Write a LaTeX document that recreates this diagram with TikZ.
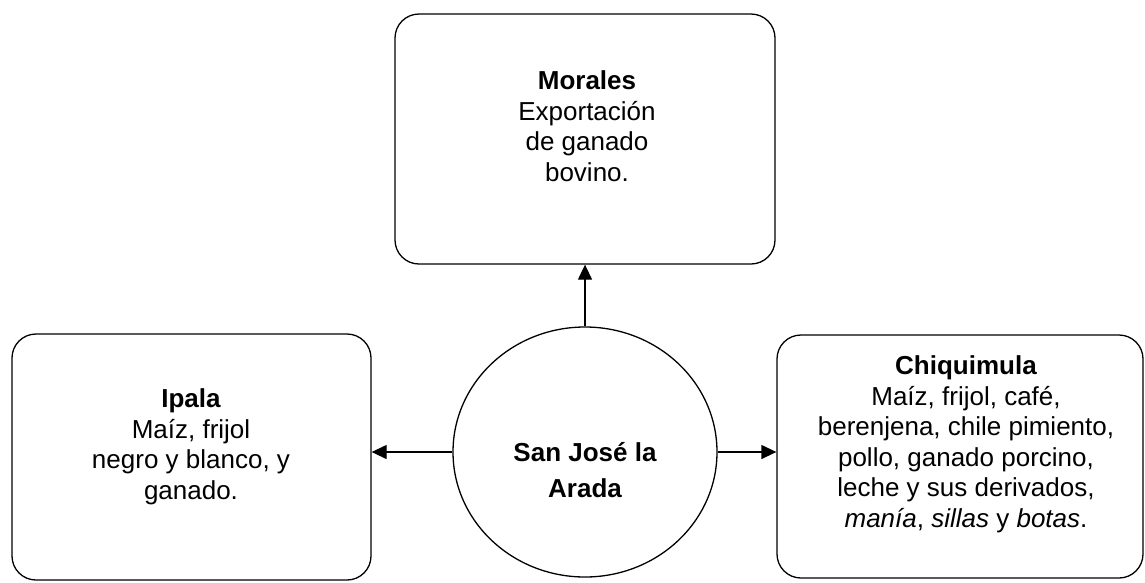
\documentclass[tikz,border=0pt]{standalone}
\usepackage{fontspec}
\setmainfont{Liberation Sans}
\usetikzlibrary{arrows.meta,shapes.geometric}
\begin{document}
\begin{tikzpicture}[x=1pt,y=-1pt,
  box/.style={draw,line width=1.3pt,rounded corners=24pt,inner sep=0pt},
  txt/.style={align=center,font=\fontsize{26}{30.5}\selectfont,inner sep=0pt,anchor=base},
  conn/.style={line width=1.3pt,-{Triangle[length=15pt,width=14pt]}}]
\useasboundingbox (0,0) rectangle (1145,582);
\node[box,minimum width=380pt,minimum height=250pt] (morales) at (585,139) {};
\node[box,minimum width=359pt,minimum height=246pt] (ipala) at (191.5,457) {};
\node[box,minimum width=366pt,minimum height=243pt] (chiq) at (960,456.5) {};
\node[draw,line width=1.3pt,ellipse,minimum width=264pt,minimum height=250pt,inner sep=0pt] (sj) at (585,452) {};
\node[txt] (moralesT) at (587,181) {\textbf{Morales}\\Exportación\\de ganado\\bovino.};
\node[txt] (ipalaT) at (191,499) {\textbf{Ipala}\\Maíz, frijol\\negro y blanco, y\\ganado.};
\node[txt] (chiqT) at (966,527) {\textbf{Chiquimula}\\Maíz, frijol, café,\\berenjena, chile pimiento,\\pollo, ganado porcino,\\leche y sus derivados,\\\textit{manía}, \textit{sillas} y \textit{botas}.};
\node[txt,font=\bfseries\fontsize{26}{36}\selectfont] (sjT) at (585,497) {San José la\\Arada};
\draw[conn] (sj.north) -- (sj.north |- morales.south);
\draw[conn] (sj.west) -- (sj.west -| ipala.east);
\draw[conn] (sj.east) -- (sj.east -| chiq.west);
\end{tikzpicture}
\end{document}
